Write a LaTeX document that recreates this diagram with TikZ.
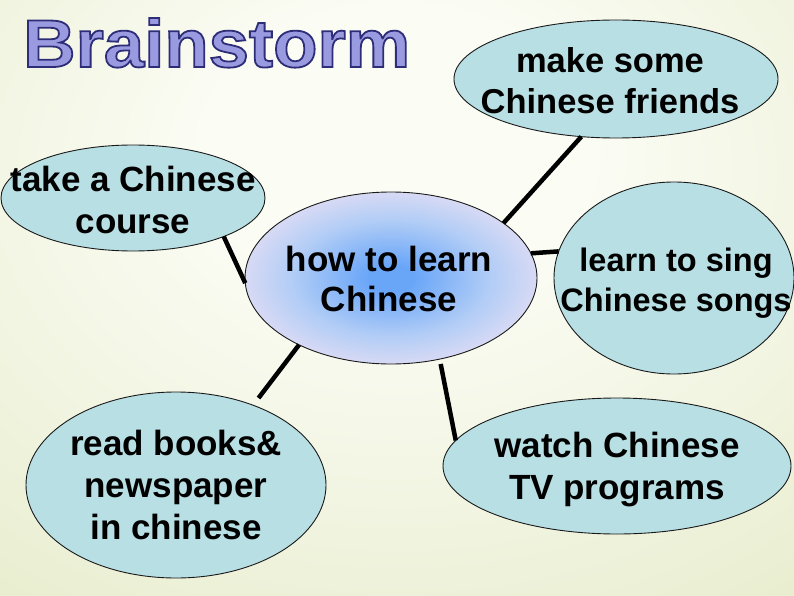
\documentclass[tikz,border=0pt]{standalone}
\usepackage{fontspec}
\setmainfont{Liberation Sans}
\newfontfamily\titlefont{Liberation Sans}[FakeStretch=1.075]
\usetikzlibrary{shapes.geometric}
\definecolor{bgedge}{HTML}{DFE6BC}
\definecolor{bgmid}{HTML}{FBFCF4}
\definecolor{ellfill}{HTML}{B8DFE3}
\definecolor{ellline}{HTML}{1A1A1A}
\definecolor{cblue}{HTML}{6AA6F8}
\definecolor{cmid}{HTML}{B2CDF6}
\definecolor{clav}{HTML}{F3E3F3}
\definecolor{titlefill}{HTML}{9A9AE0}
\pgfdeclareradialshading{bgshade}{\pgfpoint{0bp}{14bp}}{color(0bp)=(bgmid); color(12bp)=(bgmid); color(58bp)=(bgedge); color(100bp)=(bgedge)}
\pgfdeclareradialshading{ctrshade}{\pgfpoint{0bp}{0bp}}{color(0bp)=(cblue); color(4bp)=(cblue); color(17bp)=(cmid); color(31bp)=(clav); color(50bp)=(clav)}
\begin{document}
\begin{tikzpicture}[x=1pt,y=-1pt,
  ell/.style={ellipse, draw=ellline, line width=0.9pt, fill=ellfill, inner sep=0pt, outer sep=0pt},
  txt/.style={align=center, inner sep=0pt},
  link/.style={line width=4.5pt, draw=black}]
\path[use as bounding box, shading=bgshade] (0,0) rectangle (794,596);

\node[anchor=base west, inner sep=0pt] (title) at (23,67)
  {\titlefont\bfseries\fontsize{67.5}{70}\selectfont\color{titlefill}\special{pdf:literal direct 0.18 0.18 0.47 RG 2 Tr 1.8 w}Brainstorm\special{pdf:literal direct 0 Tr}};

\node[ell, minimum width=324, minimum height=118] (f) at (616,79) {};
\node[ell, minimum width=240, minimum height=192] (s) at (674,278) {};
\node[ell, minimum width=264, minimum height=106] (k) at (133,198) {};
\node[ellipse, draw=ellline, line width=0.9pt, shading=ctrshade, inner sep=0pt, outer sep=0pt,
      minimum width=292, minimum height=172] (c) at (391,278) {};
\node[ell, minimum width=300, minimum height=186] (r) at (176,485) {};
\node[ell, minimum width=348, minimum height=136] (t) at (617,466) {};

\node[txt, font=\bfseries\fontsize{34.5}{41}\selectfont] (ft) at (610,81) {make some\\Chinese friends};
\node[txt, font=\bfseries\fontsize{32.5}{40}\selectfont] (st) at (676,283) {learn to sing\\Chinese songs};
\node[txt, font=\bfseries\fontsize{35}{42}\selectfont] (kt) at (133,200) {take a Chinese\\course};
\node[txt, font=\bfseries\fontsize{35}{40}\selectfont] (ct) at (389,279) {how to learn\\Chinese};
\node[txt, font=\bfseries\fontsize{35}{42}\selectfont] (rt) at (176,485) {read books\&\\newspaper\hspace*{18pt}\\in chinese};
\node[txt, font=\bfseries\fontsize{35}{42}\selectfont] (tt) at (617,470) {watch Chinese\\TV programs};

\draw[link] (c.26) -- (f.239);
\draw[link] (c.10.6) -- (s.167.3);
\draw[link] (k.-23.6) -- (c.182.7);
\draw[link, shorten >=9pt] (c.216) -- (r.46);
\draw[link, shorten <=5pt] (c.-59) -- (t.171);
\end{tikzpicture}
\end{document}
